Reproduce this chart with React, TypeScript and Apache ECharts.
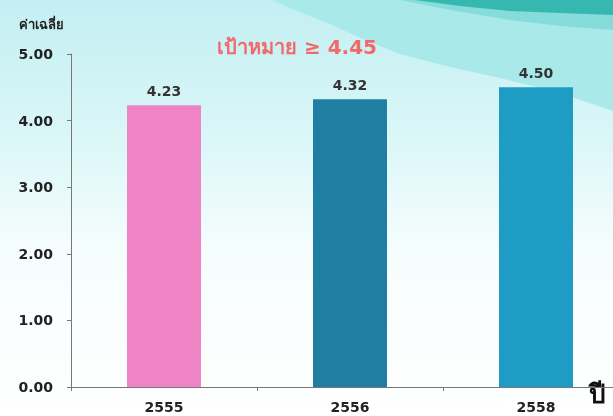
import React, { useEffect, useRef } from "react";
import * as echarts from "echarts";

const categories = ["2555", "2556", "2558"];
const values = [4.23, 4.32, 4.5];
const barColors = ["#ee84c6", "#1f7fa2", "#1e9cc3"];
const yTicks = [0, 1, 2, 3, 4, 5];
const targetText = "เป้าหมาย ≥ 4.45";
const yAxisName = "ค่าเฉลี่ย";
const xAxisName = "ปี";

export default function App() {
  const ref = useRef<HTMLDivElement>(null);
  useEffect(() => {
    if (!ref.current) return;
    const chart = echarts.init(ref.current, null, { renderer: "svg" });
    const font = "'DejaVu Sans', Verdana, sans-serif";
    chart.setOption({
      animation: false,
      graphic: [
        {
          type: "rect",
          z: -10,
          silent: true,
          shape: { x: 0, y: 0, width: 613, height: 416 },
          style: {
            fill: new echarts.graphic.LinearGradient(0, 0, 0, 1, [
              { offset: 0, color: "#c3eff2" },
              { offset: 0.35, color: "#dcf7f8" },
              { offset: 0.6, color: "#f6fdfd" },
              { offset: 1, color: "#ffffff" },
            ]),
          },
        },
        {
          type: "polygon",
          z: -9,
          silent: true,
          shape: {
            points: [
              [272, 0],
              [292, 9],
              [330, 24],
              [365, 40],
              [400, 54],
              [450, 67],
              [500, 78],
              [560, 93],
              [613, 111],
              [613, 0],
            ],
          },
          style: { fill: "#a9e9e9" },
        },
        {
          type: "polygon",
          z: -8,
          silent: true,
          shape: {
            points: [
              [400, 0],
              [450, 10],
              [510, 20],
              [560, 26],
              [613, 30],
              [613, 0],
            ],
          },
          style: { fill: "#86dcdb" },
        },
        {
          type: "polygon",
          z: -7,
          silent: true,
          shape: {
            points: [
              [415, 0],
              [460, 6],
              [510, 11],
              [560, 13],
              [613, 15],
              [613, 0],
            ],
          },
          style: { fill: "#36b8b0" },
        },
        {
          type: "text",
          x: 19,
          y: 18,
          style: {
            text: yAxisName,
            font: "bold 13px " + font,
            fill: "#222",
          },
        },
        {
          type: "text",
          x: 297,
          y: 47,
          style: {
            text: targetText,
            font: "bold 20px " + font,
            fill: "#f06a6c",
            textAlign: "center",
            textVerticalAlign: "middle",
          },
        },
        {
          type: "text",
          x: 589,
          y: 381,
          style: {
            text: xAxisName,
            font: "bold 26px " + font,
            fill: "#111",
          },
        },
      ],
      grid: {
        left: 71,
        width: 558,
        top: 54,
        bottom: 29,
        containLabel: false,
        outerBoundsMode: "none",
      },
      xAxis: {
        type: "category",
        data: categories,
        axisLine: { lineStyle: { color: "#777", width: 1 } },
        axisTick: { show: true, length: 4, lineStyle: { color: "#777" } },
        axisLabel: {
          color: "#222",
          fontWeight: "bold",
          fontSize: 14,
          fontFamily: font,
          margin: 13,
        },
      },
      yAxis: {
        type: "value",
        min: yTicks[0],
        max: yTicks[yTicks.length - 1],
        interval: 1,
        axisLine: { show: true, lineStyle: { color: "#777", width: 1 } },
        axisTick: { show: true, length: 4, lineStyle: { color: "#777" } },
        splitLine: { show: false },
        axisLabel: {
          color: "#222",
          fontWeight: "bold",
          fontSize: 14,
          fontFamily: font,
          margin: 18,
          formatter: (v: number) => v.toFixed(2),
        },
      },
      series: [
        {
          type: "bar",
          barWidth: 74,
          data: values.map((v, i) => ({
            value: v,
            itemStyle: { color: barColors[i] },
          })),
          label: {
            show: true,
            position: "top",
            distance: 7,
            color: "#333",
            fontWeight: "bold",
            fontSize: 14,
            fontFamily: font,
            formatter: (p: any) => Number(p.value).toFixed(2),
          },
        },
      ],
    });
    return () => chart.dispose();
  }, []);
  return <div ref={ref} style={{ width: 613, height: 416, position: "fixed", left: 0, top: 0 }} />;
}
